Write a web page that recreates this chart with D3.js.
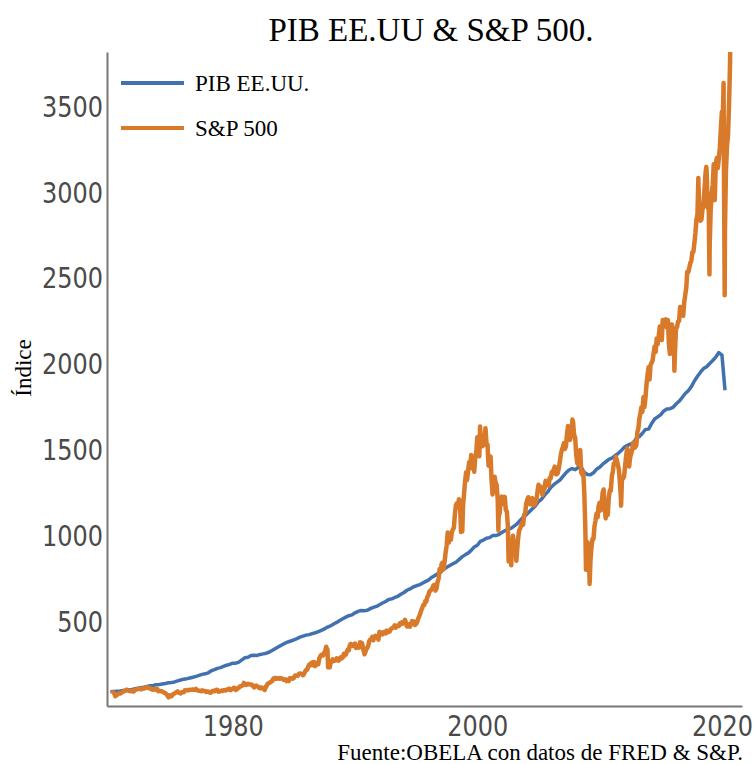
<!DOCTYPE html>
<html>
<head>
<meta charset="utf-8">
<script src="https://cdn.jsdelivr.net/npm/d3@7"></script>
<style>
  html, body { margin: 0; padding: 0; background: #fff; }
  svg { display: block; }
</style>
</head>
<body>
<svg id="chart" width="755" height="764"></svg>
<script>
// ---------------- DATA ----------------
const chartTitle = "PIB EE.UU & S&P 500.";
const sourceNote = "Fuente:OBELA con datos de FRED & S&P.";
const yAxisTitle = "Índice";
const seriesNames = ["PIB EE.UU.", "S&P 500"];
const yTickValues = [500, 1000, 1500, 2000, 2500, 3000, 3500];
const xTickYears = [1980, 2000, 2020];

// US GDP index (1970Q1 = 100), quarterly from 1970Q1 to 2020Q2
const gdpFirstYear = 1970;
const gdpIndex = [
  100, 101.5, 103.4, 103.3,  107, 109, 111, 112,  117, 120, 123, 126,
  131, 135, 136, 141,  142, 145, 148, 152,  154, 157, 163, 168,
  173, 176, 180, 184,  189, 195, 201, 204,  210, 222, 228, 236,
  240, 247, 254, 259,  266, 266, 272, 285,  298, 301, 311, 312,
  311, 317, 320, 324,  331, 341, 351, 361,  372, 381, 389, 395,
  402, 409, 417, 423,  429, 432, 438, 443,  449, 457, 465, 476,
  483, 494, 503, 514,  524, 534, 542, 547,  559, 567, 572, 571,
  574, 583, 590, 596,  606, 616, 625, 636,  640, 648, 655, 667,
  677, 690, 698, 709,  716, 721, 731, 740,  749, 764, 774, 786,
  796, 811, 824, 834,  844, 853, 868, 884,  896, 906, 922, 942,
  952, 975, 982, 993,  996, 1008, 1008, 1014,  1026, 1036, 1045, 1050,
  1063, 1076, 1096, 1114,  1129, 1146, 1164, 1181,  1206, 1220, 1243, 1262,
  1288, 1304, 1317, 1331,  1352, 1373, 1389, 1398,  1391, 1404, 1404, 1375,
  1363, 1362, 1373, 1394,  1405, 1423, 1437, 1451,  1458, 1472, 1485, 1501,
  1521, 1531, 1540, 1545,  1574, 1583, 1603, 1625,  1627, 1659, 1686, 1698,
  1712, 1733, 1744, 1746,  1753, 1773, 1789, 1811,  1834, 1850, 1874, 1907,
  1934, 1958, 1979, 1990,  2009, 2026, 2046, 2072,  2058, 1853
];

// S&P 500 index (rebased), month-end values from Jan 1970 to Aug 2020
const spFirstYear = 1970;
const spMonthly = [
  91, 96, 96, 88, 82, 78, 84, 88, 91, 90, 94, 99,
  103, 104, 108, 112, 107, 107, 103, 106, 106, 101, 101, 110,
  112, 115, 115, 116, 118, 115, 115, 119, 119, 120, 125, 127,
  125, 120, 120, 115, 113, 112, 116, 112, 117, 116, 103, 105,
  104, 103, 101, 97, 94, 92, 85, 78, 68, 79, 75, 74,
  83, 88, 90, 94, 98, 102, 95, 93, 90, 96, 98, 97,
  108, 107, 110, 109, 108, 112, 111, 111, 113, 111, 110, 116,
  110, 107, 106, 106, 103, 108, 106, 104, 104, 99, 102, 102,
  96, 94, 96, 104, 105, 103, 108, 111, 110, 100, 102, 103,
  107, 104, 109, 109, 107, 111, 112, 118, 118, 109, 114, 116,
  123, 122, 110, 114, 120, 123, 131, 132, 135, 137, 151, 146,
  139, 141, 146, 143, 143, 141, 141, 132, 125, 131, 136, 132,
  129, 122, 120, 125, 120, 118, 115, 128, 129, 144, 149, 151,
  156, 159, 164, 177, 175, 181, 175, 177, 179, 176, 179, 177,
  176, 169, 171, 172, 162, 165, 162, 179, 179, 179, 176, 180,
  193, 195, 194, 193, 204, 206, 205, 203, 196, 204, 217, 227,
  228, 244, 257, 253, 266, 270, 254, 272, 249, 262, 268, 260,
  295, 306, 314, 310, 312, 327, 343, 355, 346, 271, 248, 266,
  276, 288, 278, 281, 282, 294, 292, 281, 292, 300, 294, 299,
  320, 311, 317, 333, 345, 342, 372, 378, 375, 366, 372, 380,
  354, 357, 365, 356, 388, 385, 383, 347, 329, 327, 346, 355,
  370, 395, 403, 403, 419, 399, 417, 425, 417, 422, 403, 448,
  439, 444, 434, 446, 447, 439, 456, 445, 449, 450, 464, 468,
  472, 477, 486, 473, 484, 484, 482, 498, 493, 503, 496, 501,
  518, 502, 479, 485, 491, 478, 493, 511, 497, 508, 488, 494,
  506, 524, 538, 553, 573, 586, 604, 604, 628, 625, 651, 662,
  684, 688, 694, 703, 719, 721, 688, 701, 739, 758, 814, 796,
  845, 850, 814, 861, 912, 952, 1026, 967, 1018, 983, 1027, 1043,
  1054, 1128, 1184, 1195, 1173, 1219, 1205, 1029, 1093, 1181, 1251, 1321,
  1376, 1331, 1383, 1435, 1399, 1476, 1428, 1419, 1379, 1465, 1493, 1580,
  1499, 1469, 1611, 1561, 1527, 1564, 1538, 1632, 1544, 1537, 1414, 1419,
  1468, 1333, 1247, 1343, 1350, 1316, 1302, 1219, 1119, 1139, 1225, 1234,
  1215, 1190, 1233, 1158, 1147, 1064, 980, 985, 876, 952, 1007, 946,
  920, 904, 912, 986, 1036, 1048, 1065, 1084, 1071, 1130, 1138, 1195,
  1216, 1231, 1211, 1190, 1205, 1226, 1184, 1187, 1198, 1215, 1262, 1303,
  1270, 1294, 1269, 1244, 1281, 1281, 1327, 1312, 1321, 1298, 1343, 1342,
  1376, 1377, 1392, 1409, 1365, 1365, 1372, 1402, 1436, 1481, 1506, 1525,
  1546, 1512, 1527, 1594, 1645, 1616, 1564, 1585, 1641, 1666, 1592, 1579,
  1482, 1430, 1422, 1490, 1505, 1376, 1362, 1379, 1254, 1041, 963, 971,
  888, 790, 858, 938, 988, 988, 1062, 1097, 1136, 1114, 1178, 1199,
  1154, 1187, 1257, 1276, 1171, 1108, 1184, 1128, 1227, 1272, 1269, 1352,
  1383, 1427, 1425, 1466, 1446, 1420, 1389, 1310, 1216, 1347, 1340, 1352,
  1411, 1468, 1514, 1503, 1409, 1464, 1483, 1512, 1549, 1518, 1522, 1533,
  1610, 1628, 1687, 1717, 1753, 1727, 1812, 1755, 1808, 1888, 1941, 1987,
  1916, 1999, 2013, 2025, 2068, 2107, 2075, 2154, 2120, 2169, 2223, 2213,
  2145, 2262, 2223, 2242, 2265, 2218, 2262, 2120, 2064, 2235, 2236, 2197,
  2086, 2077, 2214, 2220, 2254, 2256, 2337, 2334, 2331, 2286, 2364, 2407,
  2450, 2541, 2540, 2563, 2593, 2605, 2656, 2657, 2708, 2768, 2846, 2874,
  3036, 2917, 2839, 2847, 2908, 2922, 3028, 3119, 3133, 2915, 2967, 2695,
  2907, 2993, 3047, 3167, 2959, 3162, 3204, 3146, 3200, 3265, 3377, 3473,
  3467, 3176, 2778, 3131, 3273, 3333, 3516, 3763
];

// S&P 500 intra-month extremes (rebased)
const spExtremeDates = [
  "1970-05-26", "1974-10-03", "1982-08-12", "1987-08-25", "1987-10-19", "1987-12-04",
  "1990-10-11", "1998-10-08", "2000-03-24", "2001-09-21", "2002-07-23", "2002-10-09",
  "2003-03-11", "2007-10-09", "2008-11-20", "2009-03-09", "2011-10-03", "2016-02-11",
  "2018-01-26", "2018-09-20", "2018-12-24", "2020-02-19", "2020-03-23", "2020-09-02"
];
const spExtremeValues = [
  74, 67, 110, 362, 242, 241,
  318, 1031, 1642, 1038, 858, 835,
  861, 1683, 809, 727, 1182, 1966,
  3088, 3151, 2527, 3640, 2405, 3820
];

// ---------------- BUILD ----------------
const W = 755, H = 764;
const plot = { left: 107, right: 742, top: 52, bottom: 706 };
const colors = { gdp: "#4271b0", sp: "#d97a2a" };

const svg = d3.select("#chart");

const parse = d3.timeParse("%Y-%m-%d");

const gdpData = gdpIndex.map((v, i) => ({
  date: new Date(gdpFirstYear + Math.floor(i / 4), (i % 4) * 3, 1),
  value: v
}));

const spData = spMonthly.map((v, i) => ({
  date: new Date(spFirstYear + Math.floor(i / 12), (i % 12) + 1, 0),
  value: v
})).concat(spExtremeDates.map((d, i) => ({ date: parse(d), value: spExtremeValues[i] })))
  .sort((a, b) => a.date - b.date);

const x = d3.scaleTime()
  .domain([new Date(1969, 8, 20), new Date(2021, 7, 22)])
  .range([plot.left, plot.right]);

const y = d3.scaleLinear()
  .domain([17, 3820])
  .range([plot.bottom, plot.top]);

svg.append("rect").attr("width", W).attr("height", H).attr("fill", "#fff");

svg.append("defs").append("clipPath").attr("id", "clip")
  .append("rect")
  .attr("x", plot.left).attr("y", plot.top - 2)
  .attr("width", plot.right - plot.left).attr("height", plot.bottom - plot.top + 2);

const line = d3.line().x(d => x(d.date)).y(d => y(d.value));

const g = svg.append("g").attr("clip-path", "url(#clip)");

g.append("path").datum(gdpData)
  .attr("fill", "none").attr("stroke", colors.gdp)
  .attr("stroke-width", 3.5).attr("stroke-linejoin", "round")
  .attr("d", line);

g.append("path").datum(spData)
  .attr("fill", "none").attr("stroke", colors.sp)
  .attr("stroke-width", 4.5).attr("stroke-linejoin", "round")
  .attr("d", line);

// Axes
const yAxis = d3.axisLeft(y).tickValues(yTickValues).tickSize(0).tickPadding(4)
  .tickFormat(d3.format("d"));
const xAxis = d3.axisBottom(x)
  .tickValues(xTickYears.map(yr => new Date(yr, 0, 1)))
  .tickSize(0).tickPadding(9)
  .tickFormat(d3.timeFormat("%Y"));

const yG = svg.append("g").attr("transform", `translate(${plot.left},0)`).call(yAxis);
const xG = svg.append("g").attr("transform", `translate(0,${plot.bottom})`).call(xAxis);

[yG, xG].forEach(ax => {
  ax.select(".domain").attr("stroke", "#777").attr("stroke-width", 2);
  ax.selectAll("text")
    .attr("font-family", "'DejaVu Sans', Verdana, sans-serif")
    .attr("font-size", 24)
    .attr("fill", "#4a4a4a")
    .attr("transform", "scale(1,1.17)");
});

// Title
svg.append("text")
  .attr("x", 431).attr("y", 41)
  .attr("text-anchor", "middle")
  .attr("font-family", "'Liberation Serif', 'Times New Roman', serif")
  .attr("font-size", 33).attr("fill", "#000")
  .text(chartTitle);

// Y-axis title
svg.append("text")
  .attr("transform", "translate(31,368) rotate(-90)")
  .attr("text-anchor", "middle")
  .attr("font-family", "'Liberation Serif', 'Times New Roman', serif")
  .attr("font-size", 23).attr("fill", "#000")
  .text(yAxisTitle);

// Source note
svg.append("text")
  .attr("x", 743).attr("y", 760)
  .attr("text-anchor", "end")
  .attr("font-family", "'Liberation Serif', 'Times New Roman', serif")
  .attr("font-size", 23).attr("fill", "#000")
  .text(sourceNote);

// Legend
const legendY = [83, 128];
const legendColors = [colors.gdp, colors.sp];
const lg = svg.append("g");
seriesNames.forEach((name, i) => {
  lg.append("line")
    .attr("x1", 121).attr("x2", 184)
    .attr("y1", legendY[i]).attr("y2", legendY[i])
    .attr("stroke", legendColors[i]).attr("stroke-width", 4);
  lg.append("text")
    .attr("x", 195).attr("y", legendY[i] + 8)
    .attr("font-family", "'Liberation Serif', 'Times New Roman', serif")
    .attr("font-size", 23).attr("fill", "#000")
    .text(name);
});
</script>
</body>
</html>
